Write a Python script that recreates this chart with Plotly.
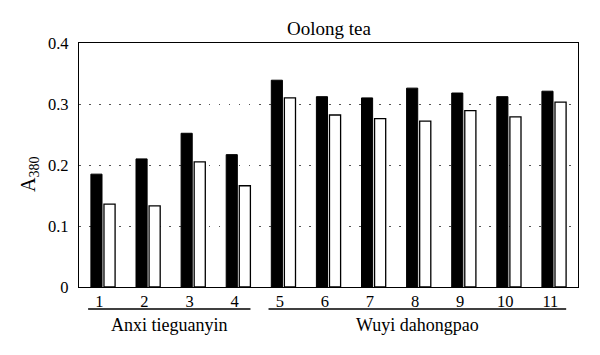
import plotly.graph_objects as go

categories = [1, 2, 3, 4, 5, 6, 7, 8, 9, 10, 11]
tick_labels = ["1", "2", "3", "4", "5", "6", "7", "8", "9", "10", "11"]
black_values = [0.185, 0.210, 0.252, 0.217, 0.339, 0.312, 0.310, 0.326, 0.318, 0.312, 0.321]
white_values = [0.136, 0.133, 0.205, 0.166, 0.310, 0.282, 0.276, 0.272, 0.289, 0.279, 0.303]
groups = ["Anxi tieguanyin", "Wuyi dahongpao"]
group_members = [[1, 2, 3, 4], [5, 6, 7, 8, 9, 10, 11]]
y_ticks = [0, 0.1, 0.2, 0.3, 0.4]
y_tick_labels = ["0", "0.1", "0.2", "0.3", "0.4"]

FONT = "Liberation Serif"
OFF = 8  # page body margin offset
W, H = 600, 355
# target plot area in page coordinates: x 79..578, y 43..287
ML, MT = 79 - OFF, 43 - OFF
MR = W - (578 - OFF)
MB = H - (287 - OFF)
pw = W - ML - MR
ph = H - MT - MB
top_px = 43  # page y of plot top


def py(page_y):
    return (top_px + ph - page_y) / ph


fig = go.Figure()
fig.add_trace(go.Bar(x=categories, y=black_values, marker=dict(color="black", line=dict(color="black", width=1)), showlegend=False))
fig.add_trace(go.Bar(x=categories, y=white_values, marker=dict(color="white", line=dict(color="black", width=1.3)), showlegend=False))

label_shift = 0.08
fig.update_layout(
    width=W, height=H,
    margin=dict(l=ML, r=MR, t=MT, b=MB, autoexpand=False),
    paper_bgcolor="white", plot_bgcolor="white",
    barmode="group", bargap=0.42, bargroupgap=0.15,
    font=dict(family=FONT, size=17, color="black"),
    xaxis=dict(range=[0.468, 11.532], tickvals=[c - label_shift for c in categories], ticktext=tick_labels,
               showgrid=False, zeroline=False, showline=True, linecolor="black", linewidth=1.3,
               mirror=True, ticks="", tickfont=dict(family=FONT, size=16.5), ticklabelstandoff=-1),
    yaxis=dict(range=[0, 0.4], tickvals=y_ticks, ticktext=y_tick_labels, showgrid=True,
               gridcolor="#555", griddash="1.5px,8.5px", gridwidth=1, zeroline=False,
               showline=True, linecolor="black", linewidth=1.3, mirror=True, ticks="",
               tickfont=dict(family=FONT, size=16.5), ticklabelstandoff=6),
)

# title
fig.add_annotation(text="Oolong tea", xref="paper", yref="paper", x=0.5, y=py(28),
                   showarrow=False, font=dict(family=FONT, size=19), xanchor="center", yanchor="middle")

# y-axis title
fig.add_annotation(text="A<sub>380</sub>", xref="paper", yref="paper",
                   x=(30 - 79) / pw, y=py(175), textangle=-90, showarrow=False,
                   font=dict(family=FONT, size=20), xanchor="center", yanchor="middle")

# group underlines and labels
for name, members in zip(groups, group_members):
    x0 = members[0] - label_shift - 0.25
    x1 = members[-1] - label_shift + 0.35
    fig.add_shape(type="line", xref="x", yref="paper", x0=x0, x1=x1, y0=py(309), y1=py(309),
                  line=dict(color="black", width=1.3))
    fig.add_annotation(text=name, xref="x", yref="paper", x=(x0 + x1) / 2, y=py(325),
                       showarrow=False, font=dict(family=FONT, size=18), xanchor="center", yanchor="middle")

fig.write_html("out.html")
